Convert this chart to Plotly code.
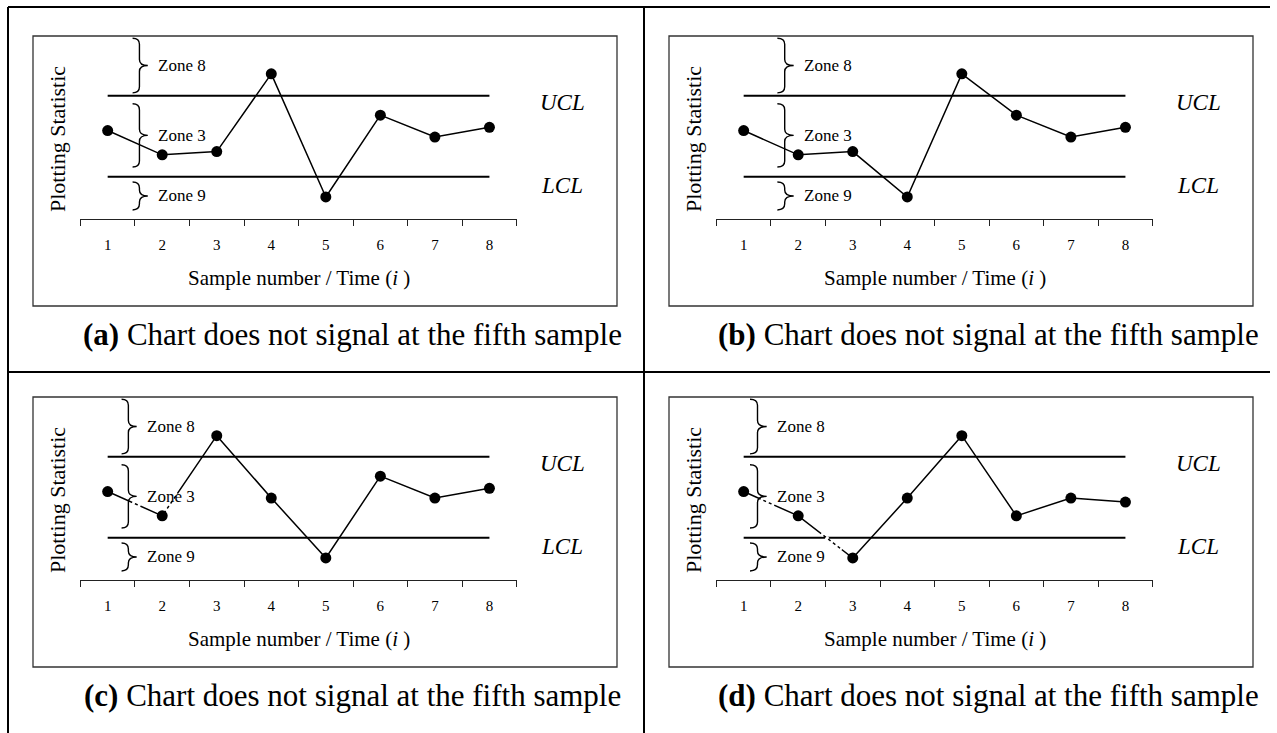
import plotly.graph_objects as go

W, H = 1277, 733

# ---------------- data ----------------
samples = [1, 2, 3, 4, 5, 6, 7, 8]
tick_labels = ["1", "2", "3", "4", "5", "6", "7", "8"]
UCL = 20.0
LCL = 10.0
stat_a = [15.7, 12.7, 13.1, 22.7, 7.5, 17.6, 14.9, 16.1]
stat_b = [15.7, 12.7, 13.1, 7.5, 22.7, 17.6, 14.9, 16.1]
stat_c = [15.7, 12.7, 22.6, 14.9, 7.5, 17.6, 14.9, 16.1]
stat_d = [15.7, 12.7, 7.5, 14.9, 22.6, 12.7, 14.9, 14.4]
panel_letters = ["a", "b", "c", "d"]
caption_text = "Chart does not signal at the fifth sample"
zone_labels = ["Zone 8", "Zone 3", "Zone 9"]
zone_spans = [(27.1, 20.35), (19.0, 11.2), (9.35, 5.9)]   # (top, bottom) in statistic units
x_title = "Sample number / Time (<i>i</i> )"
y_title = "Plotting Statistic"
ucl_label = "UCL"
lcl_label = "LCL"

series = [stat_a, stat_b, stat_c, stat_d]

# ---------------- styling / layout geometry ----------------
COL_DX = 636
ROW_DY = 361
brace_x = [(1.457, 1.736), (1.618, 1.917), (1.255, 1.532), (1.116, 1.422)]
# broken (dashed-looking) stretches of connecting segments: (segment index, from frac, to frac)
broken = [[], [], [(0, 0.45, 0.62), (1, 0.0, 0.3)], [(0, 0.31, 0.6), (1, 0.42, 0.8)]]
FONT = "Liberation Serif, Times New Roman, serif"


def fx(px):
    return px / W


def fy(py):
    return 1 - py / H


fig = go.Figure()
shapes = []
annotations = []
layout_axes = {}


def brace_path(x0, xt, ytop, ybot):
    ymid = (ytop + ybot) / 2
    xs = x0 + 0.45 * (xt - x0)
    r = 0.75
    return (f"M {x0},{ytop} Q {xs},{ytop} {xs},{ytop - r} "
            f"L {xs},{ymid + r} Q {xs},{ymid} {xt},{ymid} "
            f"Q {xs},{ymid} {xs},{ymid - r} "
            f"L {xs},{ybot + r} Q {xs},{ybot} {x0},{ybot}")


def paper_text(px, py, text, size, angle=0):
    return dict(x=fx(px), y=fy(py), xref="paper", yref="paper", text=text,
                textangle=angle, showarrow=False, xanchor="center", yanchor="middle",
                font=dict(family=FONT, size=size, color="black"))


for k in range(4):
    r, c = divmod(k, 2)
    dx, dy = c * COL_DX, r * ROW_DY
    n = k + 1
    xa = "x" if n == 1 else f"x{n}"
    ya = "y" if n == 1 else f"y{n}"
    vals = series[k]

    for lim in (UCL, LCL):
        fig.add_trace(go.Scatter(
            x=[samples[0], samples[-1]], y=[lim, lim], mode="lines",
            line=dict(color="black", width=2), xaxis=xa, yaxis=ya,
            showlegend=False, hoverinfo="skip", cliponaxis=False))
    fig.add_trace(go.Scatter(
        x=samples, y=vals, mode="lines",
        line=dict(color="black", width=1.5),
        xaxis=xa, yaxis=ya, showlegend=False, cliponaxis=False, hoverinfo="skip"))
    # broken stretches: white dashes laid over the connecting line
    for seg, f0, f1 in broken[k]:
        xs0, xs1 = samples[seg], samples[seg + 1]
        ys0, ys1 = vals[seg], vals[seg + 1]
        fig.add_trace(go.Scatter(
            x=[xs0 + f0 * (xs1 - xs0), xs0 + f1 * (xs1 - xs0)],
            y=[ys0 + f0 * (ys1 - ys0), ys0 + f1 * (ys1 - ys0)],
            mode="lines", line=dict(color="white", width=3.5, dash="3px,3px"),
            xaxis=xa, yaxis=ya, showlegend=False, cliponaxis=False, hoverinfo="skip"))
    fig.add_trace(go.Scatter(
        x=samples, y=vals, mode="markers",
        marker=dict(color="black", size=11),
        xaxis=xa, yaxis=ya, showlegend=False, cliponaxis=False))

    xkey = "xaxis" if n == 1 else f"xaxis{n}"
    ykey = "yaxis" if n == 1 else f"yaxis{n}"
    layout_axes[xkey] = dict(
        domain=[fx(80.4 + dx), fx(516.7 + dx)], range=[0.5, 8.5],
        anchor=ya, tickmode="array", tickvals=samples, ticktext=tick_labels,
        ticks="", showline=True, linecolor="#222", linewidth=1,
        showgrid=False, zeroline=False, fixedrange=True,
        tickfont=dict(family=FONT, size=15, color="black"),
        ticklabelstandoff=12,
        minor=dict(tickmode="array", tickvals=[s - 0.5 for s in samples] + [samples[-1] + 0.5],
                   ticks="outside", ticklen=6, tickwidth=1, tickcolor="#222", showgrid=False))
    layout_axes[ykey] = dict(
        domain=[fy(219 + dy), fy(36 + dy)], range=[4.78, 27.37],
        anchor=xa, visible=False, fixedrange=True)

    # inner box
    shapes.append(dict(type="rect", xref="paper", yref="paper",
                       x0=fx(33 + dx), x1=fx(617 + dx), y0=fy(306 + dy), y1=fy(36 + dy),
                       line=dict(color="#333", width=1.3)))
    # braces and zone labels
    bx0, bxt = brace_x[k]
    for name, (yt, yb) in zip(zone_labels, zone_spans):
        shapes.append(dict(type="path", xref=xa, yref=ya, path=brace_path(bx0, bxt, yt, yb),
                           line=dict(color="black", width=1.4)))
        annotations.append(dict(x=bxt, y=(yt + yb) / 2, xref=xa, yref=ya, text=name,
                                showarrow=False, xanchor="left", yanchor="middle", xshift=8,
                                font=dict(family=FONT, size=17, color="black")))
    # UCL / LCL labels
    annotations.append(paper_text(562.7 + dx, 102.7 + dy, f"<i>{ucl_label}</i>", 23))
    annotations.append(paper_text(562 + dx, 185 + dy, f"<i>{lcl_label}</i>", 23))
    # axis titles
    annotations.append(paper_text(57 + dx, 139 + dy, y_title, 22, angle=-90))
    annotations.append(paper_text(298.5 + dx, 278 + dy, x_title, 21))
    # caption
    annotations.append(paper_text(352 + dx, 334 + dy,
                                  f"<b>({panel_letters[k]})</b> {caption_text}", 31))

# outer table frame
frame = [((8, 7), (1270, 7)), ((8, 7), (8, 733)), ((644, 7), (644, 733)), ((8, 372), (1270, 372))]
for (x0, y0), (x1, y1) in frame:
    shapes.append(dict(type="line", xref="paper", yref="paper",
                       x0=fx(x0), y0=fy(y0), x1=fx(x1), y1=fy(y1),
                       line=dict(color="black", width=2)))

fig.update_layout(
    width=W, height=H, autosize=False,
    margin=dict(l=0, r=0, t=0, b=0),
    paper_bgcolor="white", plot_bgcolor="white",
    shapes=shapes, annotations=annotations,
    **layout_axes)

fig.write_html("out.html", config={"displayModeBar": False},
               post_script="document.body.style.margin='0';document.body.style.overflow='hidden';")
